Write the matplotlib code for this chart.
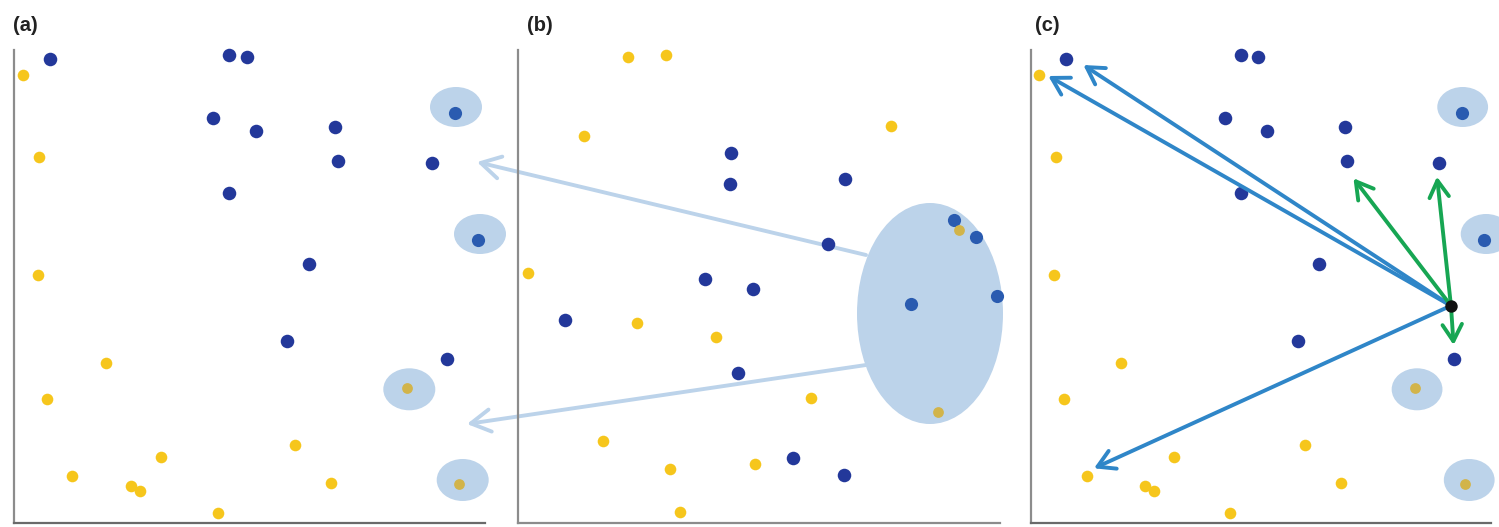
import matplotlib.pyplot as plt
from matplotlib.patches import Ellipse

plt.rcParams['font.family'] = ['Liberation Sans', 'DejaVu Sans']

# colours
NAVY = '#23389a'
GOLD = '#f6c61c'
PALE = '#bcd3ea'
IN_BLUE = '#2a5bb0'
IN_GOLD = '#d2b44a'
ARROW_BLUE = '#2f86c8'
ARROW_GREEN = '#17a653'

# panel (a) and (c) share the same points (pixel units of panel a)
blue_x = [50, 229.3, 246.7, 212.7, 256, 335, 337.7, 432, 228.7, 308.7, 287.3, 446.7]
blue_y = [59.3, 55, 56.7, 118, 131.3, 126.7, 161.3, 163, 192.7, 264.3, 341, 358.7]
gold_x = [22.7, 39.3, 37.7, 106, 47.3, 71.7, 130.7, 140, 160.7, 218, 295, 331.3]
gold_y = [74.7, 157.3, 275, 363.3, 398.7, 476, 486, 490.7, 456.7, 512.7, 445.3, 483]

# small clusters: ellipse centre and the single member inside
clu_x = [456, 480, 409.3, 462.7]
clu_y = [107, 234, 389.3, 480]
clu_w = [52, 52, 52, 52]
clu_h = [40, 40, 42, 42]
clu_dot_x = [455.3, 478, 407.3, 458.7]
clu_dot_y = [113.3, 240.3, 387.7, 484.3]
clu_kind = ['blue', 'blue', 'gold', 'gold']

# panel (b)
b_blue_x = [731.3, 729.7, 844.7, 828.3, 704.7, 753, 565, 737.7, 793.3, 844]
b_blue_y = [152.7, 184.3, 179, 244.3, 278.7, 288.7, 320, 372.7, 457.7, 474.7]
b_gold_x = [627.7, 665.7, 584, 890.7, 527.7, 637.3, 716.3, 810.7, 603.3, 670, 754.7, 680.3]
b_gold_y = [57.3, 55, 135.7, 126, 272.7, 322.7, 337.3, 398, 440.7, 468.7, 464.3, 512.3]
b_in_blue_x = [954.3, 976, 911.3, 996.7]
b_in_blue_y = [220, 237.3, 303.7, 296]
b_in_gold_x = [959.3, 938.3]
b_in_gold_y = [230, 411.7]
big_ell = (930, 313.5, 146, 221)  # centre x, centre y, width, height
# pale arrows leaving the big cluster towards panel (a)
pale_from = [(866, 255), (866, 365)]
pale_to = [(477, 162), (467, 424)]

# panel (c): one point and its neighbours
focus = (444, 305.7)
blue_to = [(31.7, 76), (67.6, 65), (78.5, 468.3)]
green_to = [(344.2, 178.3), (429.7, 176.7), (446.7, 345)]

W, H = 1499, 527
fig = plt.figure(figsize=(W / 100, H / 100), dpi=100)


def make_ax(left, right, top=50, bottom=523):
    ax = fig.add_axes([left / W, (H - bottom) / H, (right - left) / W, (bottom - top) / H])
    ax.set_facecolor('none')
    for s in ['top', 'right']:
        ax.spines[s].set_visible(False)
    ax.spines['left'].set_color('#8c8c8c')
    ax.spines['bottom'].set_color('#6a6a6a')
    ax.spines['left'].set_linewidth(1.6)
    ax.spines['bottom'].set_linewidth(1.6)
    ax.set_xticks([])
    ax.set_yticks([])
    return ax


def draw_points(ax):
    for x, y, w, h in zip(clu_x, clu_y, clu_w, clu_h):
        ax.add_patch(Ellipse((x, y), w, h, color=PALE, lw=0, zorder=1, clip_on=False))
    ax.scatter(blue_x, blue_y, s=95, color=NAVY, lw=0, zorder=3, clip_on=False)
    ax.scatter(gold_x, gold_y, s=70, color=GOLD, lw=0, zorder=3, clip_on=False)
    for x, y, k in zip(clu_dot_x, clu_dot_y, clu_kind):
        if k == 'blue':
            ax.scatter(x, y, s=90, color=IN_BLUE, lw=0, zorder=3, clip_on=False)
        else:
            ax.scatter(x, y, s=60, color=IN_GOLD, lw=0, zorder=3, clip_on=False)


# (a)
ax_a = make_ax(14, 485)
ax_a.set_xlim(14, 485)
ax_a.set_ylim(523, 50)
draw_points(ax_a)
ax_a.text(13, 31, '(a)', fontsize=14.5, fontweight='bold', color='#222222')

# (b)
ax_b = make_ax(518, 1000)
ax_b.set_xlim(518, 1000)
ax_b.set_ylim(523, 50)
ax_b.spines['bottom'].set_color('#8c8c8c')
cx, cy, ew, eh = big_ell
ax_b.add_patch(Ellipse((cx, cy), ew, eh, color=PALE, lw=0, zorder=1, clip_on=False))
for p0, p1 in zip(pale_from, pale_to):
    ax_b.annotate('', xy=p1, xytext=p0, annotation_clip=False, zorder=2,
                  arrowprops=dict(arrowstyle='->,head_length=0.7,head_width=0.4',
                                  mutation_scale=20, lw=2.8, color=PALE,
                                  shrinkA=0, shrinkB=0))
ax_b.scatter(b_blue_x, b_blue_y, s=95, color=NAVY, lw=0, zorder=3, clip_on=False)
ax_b.scatter(b_gold_x, b_gold_y, s=70, color=GOLD, lw=0, zorder=3, clip_on=False)
ax_b.scatter(b_in_blue_x, b_in_blue_y, s=90, color=IN_BLUE, lw=0, zorder=3, clip_on=False)
ax_b.scatter(b_in_gold_x, b_in_gold_y, s=60, color=IN_GOLD, lw=0, zorder=3, clip_on=False)
ax_b.text(527, 31, '(b)', fontsize=14.5, fontweight='bold', color='#222222')

# (c)
ax_c = make_ax(1031, 1491)
ax_c.set_xlim(14, 485)
ax_c.set_ylim(523, 50)
draw_points(ax_c)
for tgt in blue_to:
    ax_c.annotate('', xy=tgt, xytext=focus, annotation_clip=False, zorder=4,
                  arrowprops=dict(arrowstyle='->,head_length=0.6,head_width=0.35',
                                  mutation_scale=20, lw=2.8, color=ARROW_BLUE,
                                  shrinkA=0, shrinkB=0))
for tgt in green_to:
    ax_c.annotate('', xy=tgt, xytext=focus, annotation_clip=False, zorder=4,
                  arrowprops=dict(arrowstyle='->,head_length=0.6,head_width=0.35',
                                  mutation_scale=20, lw=2.8, color=ARROW_GREEN,
                                  shrinkA=0, shrinkB=0))
ax_c.scatter([focus[0]], [focus[1]], s=80, color='#111111', lw=0, zorder=5, clip_on=False)
ax_c.text(18, 31, '(c)', fontsize=14.5, fontweight='bold', color='#222222')

fig.savefig('out.png', dpi=100)
